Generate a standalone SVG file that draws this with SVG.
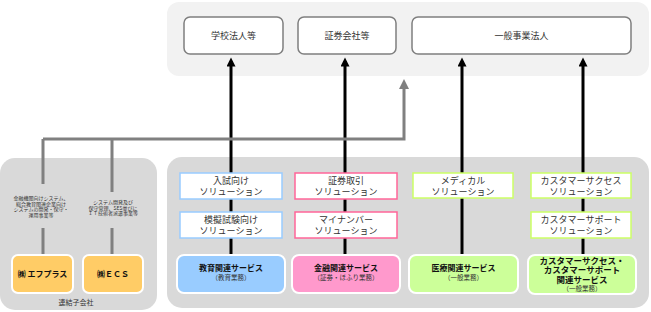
<svg xmlns="http://www.w3.org/2000/svg" width="651" height="312" viewBox="0 0 651 312">
<style>
text{font-family:"Noto Sans CJK JP","Noto Sans",sans-serif;fill:#333;text-anchor:middle}
.panel{stroke:none}
.top{fill:#fff;stroke:#7f7f7f;stroke-width:1.5}
.sol{fill:#fff;stroke-width:1.5}
.svc{stroke:#fff;stroke-width:2}
.t9{font-size:9px}
.b{font-size:8px;font-weight:bold;fill:#111}
.bc{font-size:8.5px;font-weight:bold;fill:#111}
.s{font-size:6.5px}
.tiny{font-size:5px}
.blk{stroke:#000;stroke-width:3;fill:none}
.gry{stroke:#808080;stroke-width:3;fill:none}
</style>
<defs>
<marker id="ab" viewBox="0 0 10 10" refX="6" refY="5" markerWidth="11" markerHeight="9" markerUnits="userSpaceOnUse" orient="auto"><path d="M0,0 L10,5 L0,10 Z" fill="#000"/></marker>
<marker id="ag" viewBox="0 0 10 10" refX="6" refY="5" markerWidth="11" markerHeight="10" markerUnits="userSpaceOnUse" orient="auto"><path d="M0,0 L10,5 L0,10 Z" fill="#808080"/></marker>
</defs>
<rect class="panel" x="167" y="2" width="482" height="74" rx="12" fill="#f2f2f2"/>
<rect class="panel" x="167" y="157" width="482" height="151" rx="15" fill="#d9d9d9"/>
<rect class="panel" x="0" y="158" width="157" height="152" rx="15" fill="#d9d9d9"/>
<g id="connectors">
<path class="blk" d="M231,255 V61" marker-end="url(#ab)"/>
<path class="blk" d="M345,255 V61" marker-end="url(#ab)"/>
<path class="blk" d="M462,255 V61" marker-end="url(#ab)"/>
<path class="blk" d="M583,255 V61" marker-end="url(#ab)"/>
<path class="gry" d="M43,139 H404 V83" marker-end="url(#ag)"/>
<path class="gry" d="M43,139 V184 M43,228 V256"/>
<path class="gry" d="M112,139 V192 M112,228 V256"/>
</g>
<g id="n-school"><rect class="top" x="184" y="17" width="99" height="37" rx="6"/><text class="t9" x="233.5" y="38.5">学校法人等</text></g>
<g id="n-securities"><rect class="top" x="298" y="17" width="98" height="37" rx="6"/><text class="t9" x="347" y="38.5">証券会社等</text></g>
<g id="n-general"><rect class="top" x="412" y="17" width="219" height="37" rx="6"/><text class="t9" x="521.5" y="38.5">一般事業法人</text></g>
<g id="n-sol1"><rect class="sol" x="180" y="173" width="102" height="26" stroke="#99ccff"/><text class="t9" x="231" y="184">入試向け</text><text class="t9" x="231" y="195">ソリューション</text></g>
<g id="n-sol2"><rect class="sol" x="180" y="212" width="102" height="26" stroke="#99ccff"/><text class="t9" x="231" y="223">模擬試験向け</text><text class="t9" x="231" y="234">ソリューション</text></g>
<g id="n-sol3"><rect class="sol" x="295" y="173" width="102" height="26" stroke="#ff6699"/><text class="t9" x="346" y="184">証券取引</text><text class="t9" x="346" y="195">ソリューション</text></g>
<g id="n-sol4"><rect class="sol" x="295" y="212" width="102" height="26" stroke="#ff6699"/><text class="t9" x="346" y="223">マイナンバー</text><text class="t9" x="346" y="234">ソリューション</text></g>
<g id="n-sol5"><rect class="sol" x="413" y="173" width="100" height="25" stroke="#ccff66"/><text class="t9" x="463" y="184">メディカル</text><text class="t9" x="463" y="195">ソリューション</text></g>
<g id="n-sol6"><rect class="sol" x="531" y="173" width="100" height="25" stroke="#ccff66"/><text class="t9" x="581" y="184">カスタマーサクセス</text><text class="t9" x="581" y="195">ソリューション</text></g>
<g id="n-sol7"><rect class="sol" x="531" y="212" width="100" height="26" stroke="#ccff66"/><text class="t9" x="581" y="223">カスタマーサポート</text><text class="t9" x="581" y="234">ソリューション</text></g>
<g id="n-edu"><rect class="svc" x="177" y="255" width="108" height="38" rx="7" fill="#99ccff"/><text class="b" x="231" y="271">教育関連サービス</text><text class="s" x="231" y="280">（教育業務）</text></g>
<g id="n-fin"><rect class="svc" x="292" y="255" width="108" height="38" rx="7" fill="#ff99cc"/><text class="b" x="346" y="271">金融関連サービス</text><text class="s" x="346" y="280">（証券・ほふり業務）</text></g>
<g id="n-med"><rect class="svc" x="409" y="255" width="109" height="38" rx="7" fill="#ccff99"/><text class="b" x="463.5" y="271">医療関連サービス</text><text class="s" x="463.5" y="280">（一般業務）</text></g>
<g id="n-cs"><rect class="svc" x="528" y="255" width="108" height="39" rx="7" fill="#ccff99"/><text class="bc" x="582" y="263.5">カスタマーサクセス・</text><text class="bc" x="582" y="273">カスタマーサポート</text><text class="bc" x="582" y="282.5">関連サービス</text><text class="s" x="582" y="291">（一般業務）</text></g>
<g id="n-fplus"><rect class="svc" x="12" y="255" width="61" height="38" rx="6" fill="#ffcc66"/><text class="b" x="42.5" y="277">㈱ エフプラス</text></g>
<g id="n-ecs"><rect class="svc" x="83" y="255" width="60" height="38" rx="6" fill="#ffcc66"/><text class="b" x="113" y="277">㈱ＥＣＳ</text></g>
<g id="n-desc1"><text class="tiny" x="41" y="200">金融機関向けシステム、</text><text class="tiny" x="41" y="205.5">総合教育関連企業向け</text><text class="tiny" x="41" y="211">システムの開発・保守・</text><text class="tiny" x="41" y="216.5">運用事業等</text></g>
<g id="n-desc2"><text class="tiny" x="113" y="204">システム開発及び</text><text class="tiny" x="113" y="209.5">保守管理、SES並びに</text><text class="tiny" x="113" y="215">ＩＴ技術者派遣事業等</text></g>
<g id="n-sub"><text x="76" y="305" style="font-size:7px">連結子会社</text></g>
</svg>
